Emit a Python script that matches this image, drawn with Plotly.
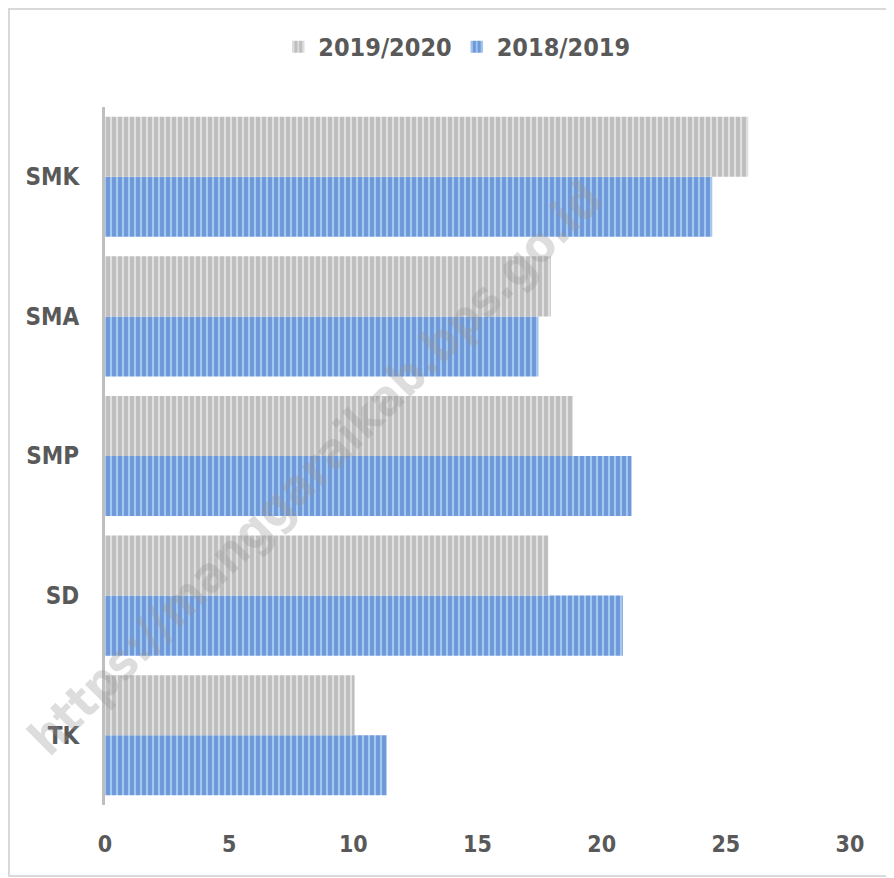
import plotly.graph_objects as go

categories = ["TK", "SD", "SMP", "SMA", "SMK"]
values_2018_2019 = [11.35, 20.85, 21.2, 17.45, 24.45]
values_2019_2020 = [10.05, 17.85, 18.85, 17.95, 25.9]
x_ticks = [0, 5, 10, 15, 20, 25, 30]

FONT = "DejaVu Sans Condensed, Liberation Sans Narrow, sans-serif"
TXT = "#595959"

# plot area in figure pixels (page body adds an 8px offset)
L, T, PW, PH = 97, 99, 745, 698

fig = go.Figure()
fig.add_trace(go.Bar(
    y=categories, x=values_2018_2019, orientation="h", name="2018/2019",
    marker=dict(color="#9fc3ee", line=dict(width=0),
                pattern=dict(shape="|", bgcolor="#a3c8f0", fgcolor="#3a68c2",
                             size=6, solidity=0.65, fillmode="overlay")),
))
fig.add_trace(go.Bar(
    y=categories, x=values_2019_2020, orientation="h", name="2019/2020",
    marker=dict(color="#dadada", line=dict(width=0),
                pattern=dict(shape="|", bgcolor="#e0e0e0", fgcolor="#9c9c9c",
                             size=6, solidity=0.65, fillmode="overlay")),
))

fig.update_layout(
    width=894, height=878,
    margin=dict(l=L, r=894 - L - PW, t=T, b=878 - T - PH),
    paper_bgcolor="white", plot_bgcolor="white",
    barmode="group", bargap=0.14, bargroupgap=0,
    font=dict(family=FONT, color=TXT),
    showlegend=True,
    legend=dict(orientation="h", traceorder="reversed",
                x=0.502, xanchor="center", xref="container",
                y=0.9556, yanchor="middle", yref="container",
                font=dict(size=25, family=FONT, color=TXT, weight="bold"),
                itemwidth=30),
    xaxis=dict(range=[0, 30], tickvals=x_ticks, showgrid=False, zeroline=False,
               showline=False, ticks="",
               tickfont=dict(size=23, family=FONT, color=TXT, weight="bold"),
               ticklabelstandoff=23),
    yaxis=dict(categoryorder="array", categoryarray=categories, showgrid=False,
               zeroline=False, showline=True, linecolor="#bfbfbf", linewidth=3,
               ticks="", ticklabelstandoff=18,
               tickfont=dict(size=24, family=FONT, color=TXT, weight="bold")),
)

fig.add_shape(type="rect", xref="paper", yref="paper",
              x0=(1 - L) / PW, x1=(885 - L) / PW,
              y0=-(868 - T - PH) / PH, y1=(T + PH - 1) / PH,
              line=dict(color="#d9d9d9", width=2), fillcolor="rgba(0,0,0,0)")

fig.add_annotation(text="https://manggaraikab.bps.go.id", xref="paper", yref="paper",
                   x=(307 - L) / PW, y=(T + PH - 460) / PH,
                   xanchor="center", yanchor="middle", showarrow=False, textangle=-45,
                   font=dict(size=49, family=FONT, color="rgba(150,150,150,0.32)", weight="bold"))

fig.write_html("out.html")
